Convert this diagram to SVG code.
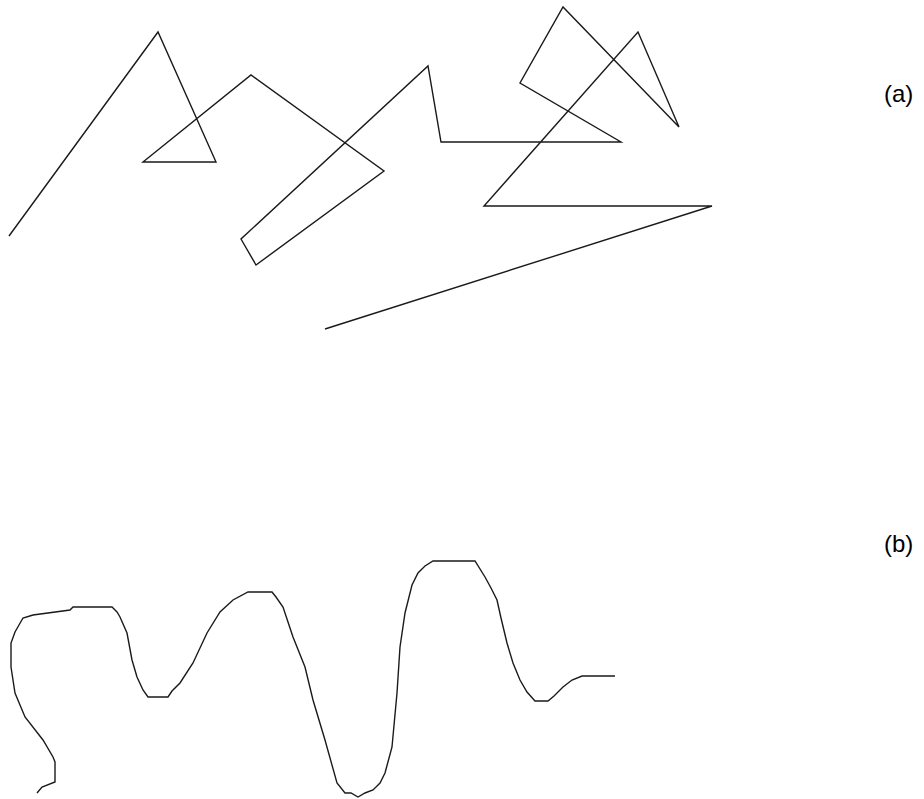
<svg xmlns="http://www.w3.org/2000/svg" width="924" height="799" viewBox="0 0 924 799">
<style>
.ln{fill:none;stroke:#1a1a1a;stroke-width:1.4;stroke-linejoin:miter;stroke-linecap:butt}
.lb{font-family:"Liberation Sans",Arial,sans-serif;font-size:24px;fill:#000}
</style>
<rect width="924" height="799" fill="#fff"/>
<g id="connectors">
<polyline id="poly-a" class="ln" points="9,236 158,32 216,162 143,162 251,75 384,171 256,265 241,239 428,66 441,142 621,142 520,83 563,7 679,127 638,32 484,206 712,206 325,329"/>
<polyline id="curve-b" class="ln" points="37,793 42,787 55,782 55,762 53,757 43,740 25,717 15,693 11,667 11,643 15,632 23,618 33,615 70,610 73,607 112,607 117,612 120,617 127,633 132,660 137,677 143,690 148,697 168,697 172,691 180,683 193,663 207,633 220,612 233,600 248,592 272,592 276,597 283,607 293,637 305,667 313,700 325,740 337,783 345,793 351,793 358,797 365,793 373,790 380,783 385,773 392,747 397,693 400,647 405,613 412,585 418,573 425,566 433,561 475,561 485,577 491,588 497,600 501,618 507,643 513,663 520,680 527,692 535,701 548,701 554,696 563,687 572,680 582,676 615,676"/>
</g>
<g id="label-a"><text class="lb" x="884" y="102">(a)</text></g>
<g id="label-b"><text class="lb" x="884" y="552">(b)</text></g>
</svg>
